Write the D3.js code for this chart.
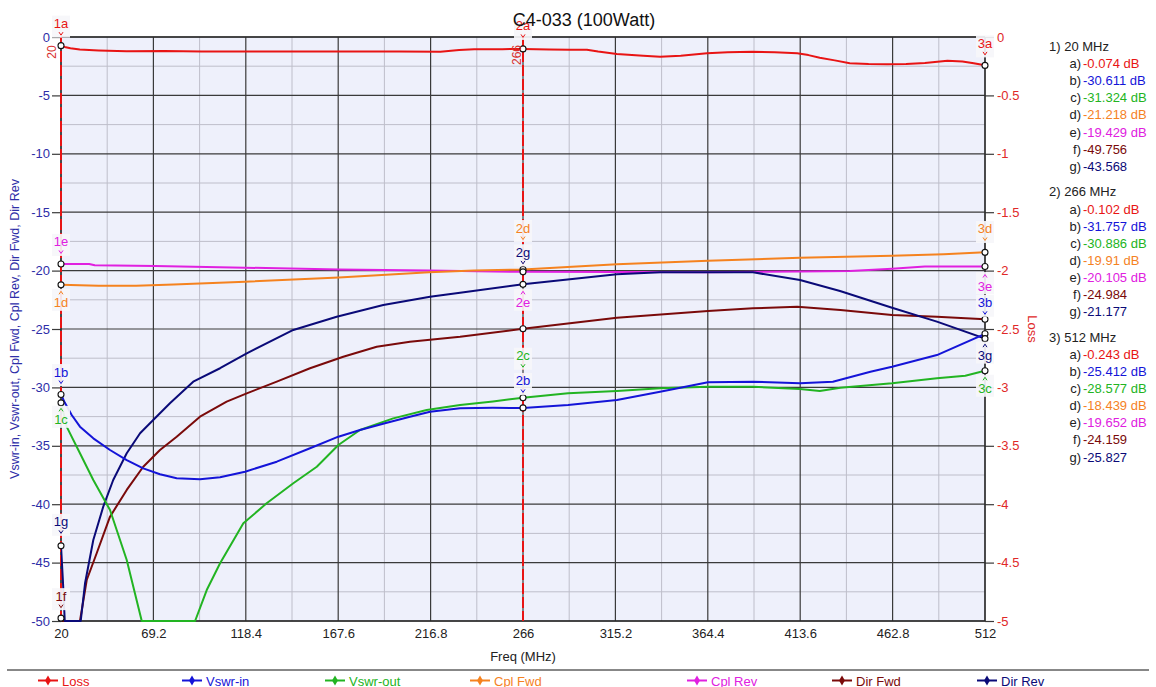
<!DOCTYPE html>
<html><head><meta charset="utf-8">
<script src="https://cdn.jsdelivr.net/npm/d3@7"></script>
<style>
body{margin:0;background:#fff}
svg{display:block}
text{font-family:Arial,"Liberation Sans",sans-serif}
</style>
</head><body>
<svg id="chart" width="1156" height="687"></svg>
<script>
// ---------------- DATA ----------------
const chartTitle = "C4-033 (100Watt)";
const xLabel = "Freq (MHz)";
const leftLabel = "Vswr-in, Vswr-out, Cpl Fwd, Cpl Rev, Dir Fwd, Dir Rev";
const rightLabel = "Loss";
const xTicks = [20, 69.2, 118.4, 167.6, 216.8, 266, 315.2, 364.4, 413.6, 462.8, 512];
const leftTicks = [0, -5, -10, -15, -20, -25, -30, -35, -40, -45, -50];
const rightTicks = [0, -0.5, -1, -1.5, -2, -2.5, -3, -3.5, -4, -4.5, -5];
const seriesNames = ["Loss", "Vswr-in", "Vswr-out", "Cpl Fwd", "Cpl Rev", "Dir Fwd", "Dir Rev"];
const seriesLetters = ["a", "b", "c", "d", "e", "f", "g"];
const seriesColors = ["#E81414", "#1414D8", "#22B422", "#F5821F", "#E020E0", "#7A0A0A", "#0A0A78"];
const markerFreqs = [20, 266, 512];
const markerValues1 = [-0.074, -30.611, -31.324, -21.218, -19.429, -49.756, -43.568];
const markerValues2 = [-0.102, -31.757, -30.886, -19.91, -20.105, -24.984, -21.177];
const markerValues3 = [-0.243, -25.412, -28.577, -18.439, -19.652, -24.159, -25.827];

const lossData = [[20,-0.074],[22,-0.085],[25,-0.097],[30,-0.108],[40,-0.115],[55,-0.123],[75,-0.12],[95,-0.125],[130,-0.124],[170,-0.125],[200,-0.124],[222,-0.126],[232,-0.112],[240,-0.105],[255,-0.104],[266,-0.102],[280,-0.106],[291,-0.109],[300,-0.11],[306,-0.125],[316,-0.146],[330,-0.16],[339,-0.169],[350,-0.16],[364,-0.14],[375,-0.13],[388,-0.126],[400,-0.13],[412,-0.14],[418,-0.155],[424,-0.177],[432,-0.2],[440,-0.225],[450,-0.232],[460,-0.234],[470,-0.232],[480,-0.222],[492,-0.203],[500,-0.21],[506,-0.225],[512,-0.243]];
const vswrInData = [[20,-30.611],[22,-31.3],[25.7,-32.36],[30.1,-33.36],[37.2,-34.36],[46.1,-35.36],[55,-36.22],[63.8,-36.93],[72.7,-37.44],[81.6,-37.78],[94,-37.87],[104.7,-37.7],[118,-37.22],[134.9,-36.36],[152.6,-35.21],[167.7,-34.22],[179.2,-33.65],[192.5,-33.07],[205.8,-32.51],[216.5,-32.08],[232.5,-31.79],[250,-31.75],[266,-31.757],[290,-31.5],[316,-31.08],[339,-30.37],[364.5,-29.56],[388.5,-29.51],[413.5,-29.65],[431,-29.51],[451,-28.66],[462.5,-28.23],[486.4,-27.23],[512,-25.412]];
const vswrOutData = [[20,-31.324],[21.5,-32.3],[23,-33.36],[30.1,-35.64],[37.2,-37.93],[46.1,-40.5],[55,-44.78],[63,-50],[91.4,-50],[97.6,-47.35],[104.7,-45.06],[117.1,-41.64],[129.5,-39.92],[143.7,-38.21],[156.2,-36.79],[167.7,-34.93],[179.2,-33.65],[196.9,-32.65],[214.7,-31.93],[232.5,-31.51],[250,-31.2],[266,-30.886],[290,-30.5],[316,-30.31],[339,-30.08],[364.5,-29.94],[388.5,-29.94],[413.5,-30.14],[424,-30.31],[435,-30.03],[462.5,-29.65],[486.4,-29.22],[501.5,-29.0],[512,-28.577]];
const cplFwdData = [[20,-21.218],[40,-21.3],[60,-21.3],[80,-21.2],[118,-20.95],[168,-20.6],[216,-20.15],[240,-20.0],[266,-19.91],[316,-19.46],[364.5,-19.15],[413.5,-18.9],[462.5,-18.72],[490,-18.6],[512,-18.439]];
const cplRevData = [[20,-19.429],[35,-19.43],[38,-19.55],[70,-19.6],[118,-19.75],[168,-19.9],[216,-20.0],[266,-20.105],[316,-20.12],[364.5,-20.15],[413.5,-20.08],[440,-20.03],[462.5,-19.85],[480,-19.65],[512,-19.652]];
const dirFwdData = [[20,-49.756],[20.8,-50],[30.1,-50],[33.7,-46.49],[39,-44.2],[46.1,-41.07],[55,-38.78],[63.8,-36.79],[72.7,-35.36],[81.6,-34.22],[94,-32.51],[108.2,-31.22],[118.9,-30.51],[134.9,-29.51],[152.6,-28.36],[170.3,-27.37],[188.1,-26.52],[205.8,-26.09],[232.5,-25.66],[266,-24.984],[316,-24.03],[364.5,-23.46],[388.5,-23.23],[412,-23.09],[435,-23.37],[462.5,-23.8],[486.4,-23.95],[512,-24.159]];
const dirRevData = [[20,-43.568],[21,-46.5],[22,-50],[30.5,-50],[32.8,-46.77],[37.2,-43.07],[42.5,-40.21],[47.8,-37.93],[55,-35.64],[62.1,-33.93],[69.1,-32.79],[78,-31.36],[90.4,-29.51],[104.7,-28.36],[118.9,-27.08],[143.7,-25.08],[166.8,-23.95],[191.6,-22.95],[216.5,-22.24],[232.5,-21.89],[266,-21.177],[316,-20.32],[339,-20.15],[388.5,-20.15],[413.5,-20.8],[434.8,-21.75],[462.5,-23.18],[486.4,-24.37],[512,-25.827]];

// ---------------- LAYOUT ----------------
const W = 1156, H = 687;
const plot = {l: 61, r: 985, t: 37, b: 621};
// marker label layout: [marker index, series index, label-centre offset from point (px)]
const markerLabelLayout = [
  [0,0,-22],[0,4,-22],[0,3,18],[0,1,-22.5],[0,2,17],[0,6,-24],[0,5,-22],
  [1,0,-23],[1,3,-41.5],[1,6,-32],[1,4,31],[1,2,-42],[1,1,-27],
  [2,0,-22],[2,3,-23.4],[2,4,19.5],[2,1,-31],[2,6,17],[2,2,18]
];
// label "2g" points at the shared circle above; arrow direction follows sign of offset
const legendX = [38, 182, 325, 470, 687, 832, 977];

const svg = d3.select("#chart");
const x = d3.scaleLinear().domain([20, 512]).range([plot.l, plot.r]);
const yL = d3.scaleLinear().domain([0, -50]).range([plot.t, plot.b]);
const yR = d3.scaleLinear().domain([0, -5]).range([plot.t, plot.b]);

svg.append("rect").attr("width", W).attr("height", H).attr("fill", "#fff");
svg.append("rect").attr("x", plot.l).attr("y", plot.t).attr("width", plot.r - plot.l)
  .attr("height", plot.b - plot.t).attr("fill", "#EEF0FB");

// minor grid
const g = svg.append("g");
const xMinor = xTicks.slice(0, -1).map((d, i) => (d + xTicks[i + 1]) / 2);
const yMinor = leftTicks.slice(0, -1).map((d, i) => (d + leftTicks[i + 1]) / 2);
g.selectAll(".vmin").data(xMinor).join("line")
  .attr("x1", d => x(d)).attr("x2", d => x(d)).attr("y1", plot.t).attr("y2", plot.b)
  .attr("stroke", "#BEBECA").attr("stroke-width", 1);
g.selectAll(".hmin").data(yMinor).join("line")
  .attr("x1", plot.l).attr("x2", plot.r).attr("y1", d => yL(d)).attr("y2", d => yL(d))
  .attr("stroke", "#BEBECA").attr("stroke-width", 1);
// major grid
g.selectAll(".vmaj").data(xTicks).join("line")
  .attr("x1", d => x(d)).attr("x2", d => x(d)).attr("y1", plot.t).attr("y2", plot.b)
  .attr("stroke", "#3A3A3A").attr("stroke-width", 1.2);
g.selectAll(".hmaj").data(leftTicks).join("line")
  .attr("x1", plot.l).attr("x2", plot.r).attr("y1", d => yL(d)).attr("y2", d => yL(d))
  .attr("stroke", "#3A3A3A").attr("stroke-width", 1.2);

// axes
const axL = svg.append("g").attr("transform", `translate(${plot.l},0)`)
  .call(d3.axisLeft(yL).tickValues(leftTicks).tickSize(9).tickPadding(2).tickFormat(d => String(d)));
axL.select(".domain").remove();
axL.selectAll(".tick line").attr("stroke", "#3A3A3A").attr("stroke-width", 1.2);
axL.selectAll("text").attr("fill", "#2E2EA8").style("font-size", "13px").style("font-family", "Arial, 'Liberation Sans', sans-serif");

const axR = svg.append("g").attr("transform", `translate(${plot.r},0)`)
  .call(d3.axisRight(yR).tickValues(rightTicks).tickSize(9).tickPadding(3).tickFormat(d => String(d)));
axR.select(".domain").remove();
axR.selectAll(".tick line").attr("stroke", "#3A3A3A").attr("stroke-width", 1.2);
axR.selectAll("text").attr("fill", "#E02828").style("font-size", "13px").style("font-family", "Arial, 'Liberation Sans', sans-serif");

const axB = svg.append("g").attr("transform", `translate(0,${plot.b})`)
  .call(d3.axisBottom(x).tickValues(xTicks).tickSize(0).tickPadding(8).tickFormat(d => String(d)));
axB.select(".domain").remove();
axB.selectAll("text").attr("fill", "#222").style("font-size", "13px").style("font-family", "Arial, 'Liberation Sans', sans-serif");

// frame
svg.append("line").attr("x1", plot.l).attr("x2", plot.r).attr("y1", plot.t).attr("y2", plot.t).attr("stroke", "#2A2A2A").attr("stroke-width", 1.3);
svg.append("line").attr("x1", plot.l).attr("x2", plot.r).attr("y1", plot.b).attr("y2", plot.b).attr("stroke", "#2A2A2A").attr("stroke-width", 1.3);
svg.append("line").attr("x1", plot.r).attr("x2", plot.r).attr("y1", plot.t).attr("y2", plot.b).attr("stroke", "#2A2A2A").attr("stroke-width", 1.3);
svg.append("line").attr("x1", plot.l).attr("x2", plot.l).attr("y1", plot.t).attr("y2", plot.b).attr("stroke", "#2A2A2A").attr("stroke-width", 1.3);

// marker lines (markers 1 and 2)
markerFreqs.slice(0, 2).forEach(f => {
  svg.append("line").attr("x1", x(f)).attr("x2", x(f)).attr("y1", plot.t).attr("y2", plot.b)
    .attr("stroke", "#E81414").attr("stroke-width", 2).attr("stroke-dasharray", "11,3");
});

// series
const allData = [lossData, vswrInData, vswrOutData, cplFwdData, cplRevData, dirFwdData, dirRevData];
svg.append("clipPath").attr("id", "clip").append("rect")
  .attr("x", plot.l).attr("y", plot.t - 1).attr("width", plot.r - plot.l).attr("height", plot.b - plot.t + 2);
const lines = svg.append("g").attr("clip-path", "url(#clip)");
const drawOrder = [4, 3, 5, 6, 2, 1, 0];
drawOrder.forEach(i => {
  const ys = i === 0 ? yR : yL;
  const line = d3.line().x(d => x(d[0])).y(d => ys(d[1]));
  lines.append("path").datum(allData[i]).attr("d", line).attr("fill", "none")
    .attr("stroke", seriesColors[i]).attr("stroke-width", 2).attr("stroke-linejoin", "round");
});

// marker points
const markerValues = [markerValues1, markerValues2, markerValues3];
const pointY = (m, s) => (s === 0 ? yR : yL)(markerValues[m][s]);
markerValues.forEach((vals, m) => {
  vals.forEach((v, s) => {
    svg.append("circle").attr("cx", x(markerFreqs[m])).attr("cy", pointY(m, s)).attr("r", 3)
      .attr("fill", "#fff").attr("stroke", "#111").attr("stroke-width", 1.1);
  });
});

// marker labels
markerLabelLayout.forEach(([m, s, dy]) => {
  const cx = x(markerFreqs[m]);
  const cy = pointY(m, s) + dy;
  const above = dy < 0;
  const lg = svg.append("g");
  const boxTop = above ? cy - 8 : cy - 14;
  lg.append("rect").attr("x", cx - 9).attr("y", boxTop).attr("width", 18).attr("height", 22)
    .attr("fill", "#F6F6FA").attr("opacity", 0.92);
  lg.append("text").attr("x", cx).attr("y", cy + 4.5).attr("text-anchor", "middle")
    .attr("fill", seriesColors[s]).style("font-size", "13px")
    .text(String(m + 1) + seriesLetters[s]);
  const ay = above ? cy + 10 : cy - 10;
  const arrow = above ? `M${cx - 2},${ay - 1.5}L${cx},${ay + 1.5}L${cx + 2},${ay - 1.5}`
                      : `M${cx - 2},${ay + 1.5}L${cx},${ay - 1.5}L${cx + 2},${ay + 1.5}`;
  lg.append("path").attr("d", arrow).attr("fill", "none").attr("stroke", seriesColors[s]).attr("stroke-width", 1);
});

// marker frequency labels (rotated)
[[0, 55.5, 52], [1, 520.5, 55]].forEach(([m, tx, ty]) => {
  svg.append("text").attr("transform", `translate(${tx},${ty}) rotate(-90)`)
    .attr("text-anchor", "middle").attr("fill", "#D83030").style("font-size", "12px")
    .text(String(markerFreqs[m]));
});

// title & axis titles
svg.append("text").attr("x", 584).attr("y", 26).attr("text-anchor", "middle")
  .attr("fill", "#111").style("font-size", "18px").text(chartTitle);
svg.append("text").attr("x", (plot.l + plot.r) / 2).attr("y", 661).attr("text-anchor", "middle")
  .attr("fill", "#222").style("font-size", "13px").text(xLabel);
svg.append("text").attr("transform", `translate(19,${(plot.t + plot.b) / 2}) rotate(-90)`)
  .attr("text-anchor", "middle").attr("fill", "#2E2EA8").style("font-size", "12.5px").text(leftLabel);
svg.append("text").attr("transform", `translate(1028,${(plot.t + plot.b) / 2}) rotate(90)`)
  .attr("text-anchor", "middle").attr("fill", "#E02828").style("font-size", "13px").text(rightLabel);

// right info panel
markerValues.forEach((vals, m) => {
  const hy = 51 + m * 145.4;
  svg.append("text").attr("x", 1049).attr("y", hy).attr("fill", "#222").style("font-size", "13px")
    .text(`${m + 1}) ${markerFreqs[m]} MHz`);
  vals.forEach((v, s) => {
    const yy = hy + (s + 1) * 17.1;
    svg.append("text").attr("x", 1081).attr("y", yy).attr("text-anchor", "end").attr("fill", "#222")
      .style("font-size", "13px").text(seriesLetters[s] + ")");
    svg.append("text").attr("x", 1083).attr("y", yy).attr("fill", seriesColors[s])
      .style("font-size", "13px").text(String(v) + (s < 5 ? " dB" : ""));
  });
});

// bottom legend
svg.append("line").attr("x1", 7).attr("x2", 1149).attr("y1", 670).attr("y2", 670).attr("stroke", "#111").attr("stroke-width", 1);
seriesNames.forEach((name, i) => {
  const lx = legendX[i];
  svg.append("line").attr("x1", lx).attr("x2", lx + 20).attr("y1", 680.5).attr("y2", 680.5)
    .attr("stroke", seriesColors[i]).attr("stroke-width", 2);
  svg.append("path").attr("d", d3.symbol().type(d3.symbolDiamond).size(30)())
    .attr("transform", `translate(${lx + 10},680.5)`).attr("fill", seriesColors[i]);
  svg.append("text").attr("x", lx + 24).attr("y", 685.5).attr("fill", seriesColors[i])
    .style("font-size", "13px").text(name);
});
</script>
</body></html>
